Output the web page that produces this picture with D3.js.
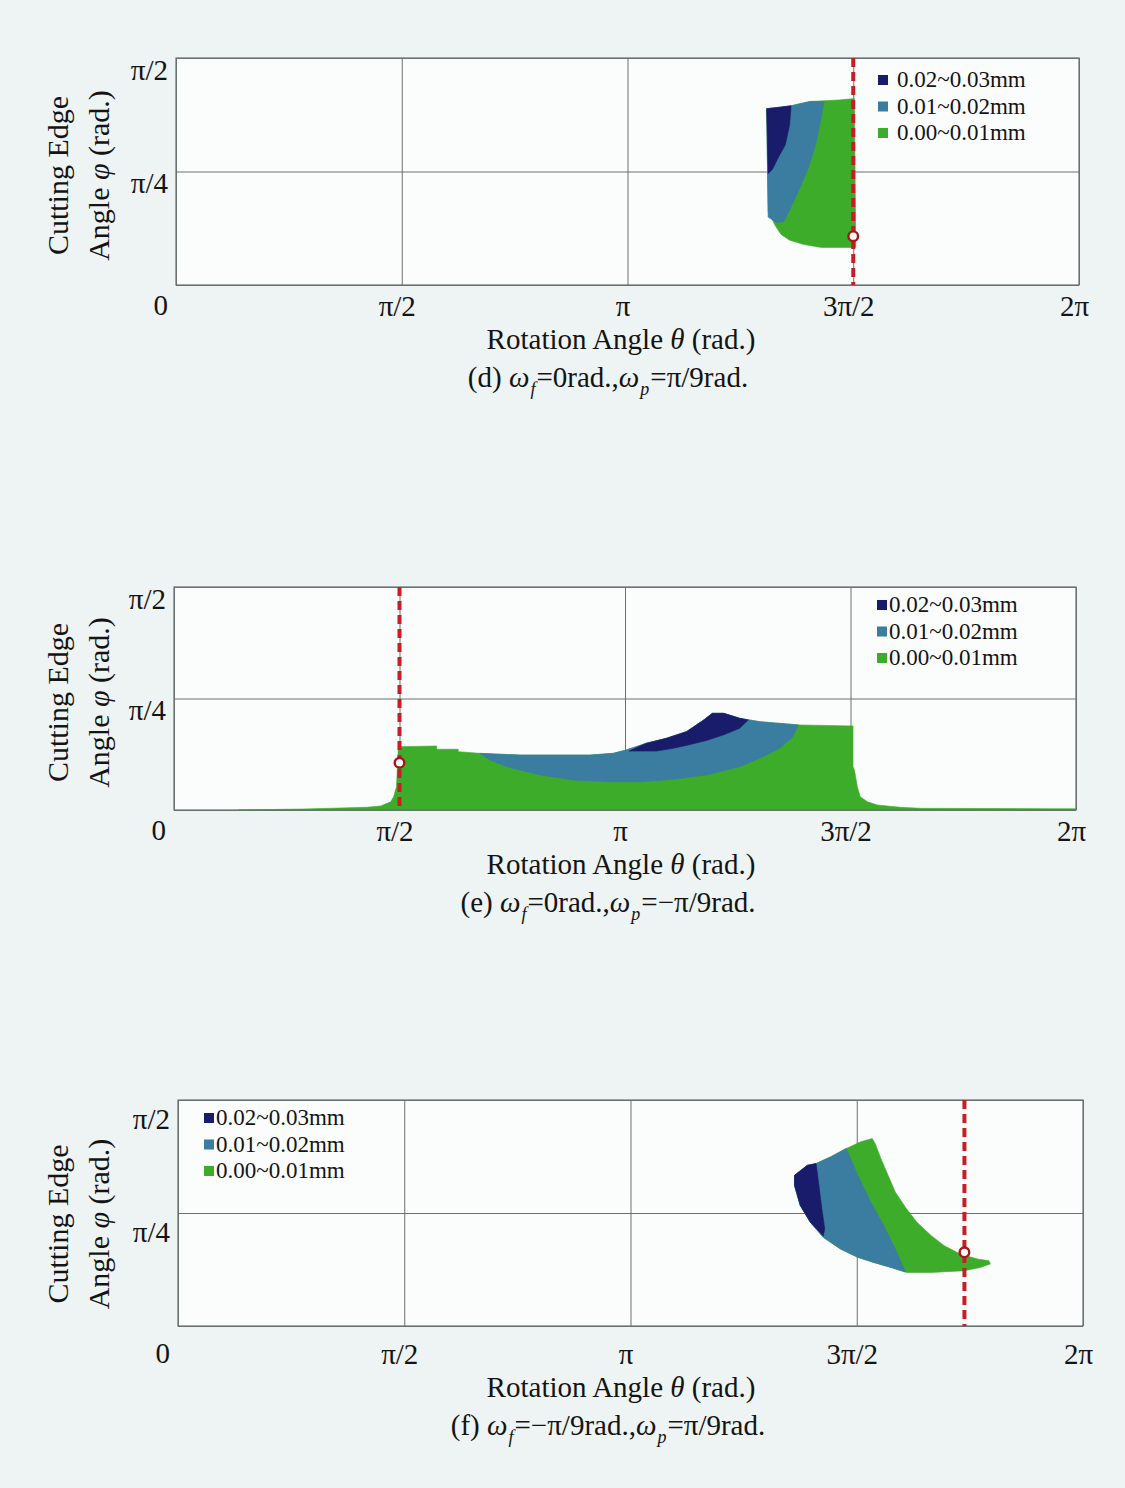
<!DOCTYPE html>
<html>
<head>
<meta charset="utf-8">
<script src="https://cdn.jsdelivr.net/npm/d3@7"></script>
<style>
body { margin: 0; background: #eef3f3; }
svg text { font-family: "Liberation Serif", "Times New Roman", serif; fill: #141414; }
</style>
</head>
<body>
<svg id="page" width="1125" height="1488"></svg>
<script>
// axis ticks (radians) and their labels
var xTicks = [0, Math.PI / 2, Math.PI, 3 * Math.PI / 2, 2 * Math.PI];
var xTickLabels = ["", "π/2", "π", "3π/2", "2π"];
var yTicks = [0, Math.PI / 4, Math.PI / 2];
var yTickLabels = ["0", "π/4", "π/2"];

var legendLabels = ["0.02~0.03mm", "0.01~0.02mm", "0.00~0.01mm"];
var bandColors = ["#191c6a", "#3a7da0", "#3dac2a"];

// regions [theta, phi] in rad. : green = depth > 0, blue = > 0.01mm, navy = > 0.02mm
var dGreen = [[4.11,1.22],[4.20,1.23],[4.28,1.24],[4.41,1.27],[4.61,1.28],[4.72,1.29],[4.73,0.26],[4.49,0.26],[4.37,0.28],[4.27,0.31],[4.21,0.35],[4.17,0.41],[4.14,0.47],[4.12,0.51]];
var dBlue = [[4.11,1.22],[4.20,1.23],[4.28,1.24],[4.41,1.27],[4.51,1.27],[4.48,1.11],[4.45,0.97],[4.40,0.81],[4.34,0.67],[4.28,0.54],[4.23,0.44],[4.18,0.43],[4.12,0.47]];
var dNavy = [[4.11,1.22],[4.20,1.23],[4.28,1.24],[4.27,1.11],[4.24,0.97],[4.19,0.88],[4.15,0.80],[4.12,0.77]];
var dCut = 3 * Math.PI / 2;
var dMark = [3 * Math.PI / 2, 0.338];

var eGreen = [[0.45,0],[0.90,0.007],[1.34,0.019],[1.44,0.028],[1.51,0.058],[1.53,0.094],[1.55,0.164],[1.556,0.305],[1.563,0.446],[1.83,0.451],[1.83,0.428],[1.98,0.428],[1.98,0.411],[2.13,0.399],[2.41,0.387],[2.90,0.387],[3.06,0.399],[3.15,0.423],[3.29,0.470],[3.43,0.505],[3.57,0.552],[3.69,0.634],[3.75,0.681],[3.83,0.681],[3.94,0.646],[4.08,0.622],[4.36,0.599],[4.73,0.592],[4.73,0.305],[4.74,0.282],[4.76,0.164],[4.78,0.094],[4.83,0.058],[4.90,0.035],[5.06,0.019],[5.20,0.012],[6.10,0.009],[6.28,0.009],[6.28,0]];
var eBlue = [[2.13,0.399],[2.41,0.387],[2.90,0.387],[3.06,0.399],[3.15,0.423],[3.29,0.470],[3.43,0.505],[3.57,0.552],[3.69,0.634],[3.75,0.681],[3.83,0.681],[3.94,0.646],[4.08,0.622],[4.35,0.599],[4.31,0.516],[4.22,0.435],[4.08,0.364],[3.94,0.305],[3.80,0.270],[3.71,0.247],[3.48,0.216],[3.25,0.199],[3.01,0.199],[2.78,0.211],[2.55,0.247],[2.32,0.305],[2.20,0.352]];
var eNavy = [[3.17,0.415],[3.29,0.470],[3.43,0.505],[3.57,0.552],[3.69,0.634],[3.75,0.681],[3.83,0.681],[3.94,0.646],[4.00,0.634],[3.94,0.575],[3.83,0.530],[3.71,0.49],[3.59,0.46],[3.48,0.435],[3.36,0.415]];
var eCut = Math.PI / 2;
var eMark = [Math.PI / 2, 0.333];

var fGreen = [[4.28,1.047],[4.37,1.117],[4.43,1.129],[4.53,1.175],[4.64,1.234],[4.74,1.280],[4.82,1.303],[4.84,1.268],[4.88,1.164],[4.93,1.047],[4.98,0.931],[5.05,0.826],[5.13,0.721],[5.23,0.628],[5.32,0.558],[5.43,0.501],[5.55,0.466],[5.63,0.454],[5.64,0.431],[5.57,0.407],[5.46,0.384],[5.23,0.372],[5.06,0.372],[4.95,0.407],[4.83,0.442],[4.72,0.477],[4.60,0.535],[4.48,0.616],[4.39,0.721],[4.32,0.838],[4.28,0.977]];
var fBlue = [[4.28,1.047],[4.37,1.117],[4.43,1.129],[4.53,1.175],[4.64,1.234],[4.72,1.047],[4.81,0.861],[4.90,0.698],[4.98,0.535],[5.05,0.375],[4.95,0.407],[4.83,0.442],[4.72,0.477],[4.60,0.535],[4.48,0.616],[4.39,0.721],[4.32,0.838],[4.28,0.977]];
var fNavy = [[4.28,1.047],[4.37,1.117],[4.43,1.129],[4.45,0.977],[4.47,0.815],[4.49,0.675],[4.48,0.625],[4.39,0.721],[4.32,0.838],[4.28,0.977]];
var fCut = 5.46;
var fMark = [5.46, 0.512];

var panels = [
    { tag: "(d)", wf: "0rad.,", wp: "π/9rad.", left: 176, top: 58, w: 903, h: 227, shift: 0,
      regions: [dGreen, dBlue, dNavy], cut: dCut, mark: dMark,
      legend: { x: 707, y: 22, gap: 14 } },
    { tag: "(e)", wf: "0rad.,", wp: "−π/9rad.", left: 174, top: 587, w: 902, h: 223, shift: 0,
      regions: [eGreen, eBlue, eNavy], cut: eCut, mark: eMark,
      legend: { x: 708, y: 18, gap: 7 } },
    { tag: "(f)", wf: "−π/9rad.,", wp: "π/9rad.", left: 178, top: 1100, w: 905, h: 226, shift: 7,
      regions: [fGreen, fBlue, fNavy], cut: fCut, mark: fMark,
      legend: { x: 31, y: 18, gap: 7 } }
];

var svg = d3.select("#page");

panels.forEach(p => {
    var x = d3.scaleLinear().domain([0, 2 * Math.PI]).range([0, p.w]);
    var y = d3.scaleLinear().domain([0, Math.PI / 2]).range([p.h, 0]);

    var g = svg.append("g").attr("transform", "translate(" + p.left + "," + p.top + ")");

    g.append("rect").attr("width", p.w).attr("height", p.h).attr("fill", "#fbfdfd");

    // grid + tick labels
    var gx = g.append("g")
        .attr("transform", "translate(0," + p.h + ")")
        .call(d3.axisBottom(x).tickValues(xTicks).tickSize(-p.h).tickFormat((d, i) => xTickLabels[i]));
    var gy = g.append("g")
        .call(d3.axisLeft(y).tickValues(yTicks).tickSize(-p.w).tickFormat((d, i) => yTickLabels[i]));
    [gx, gy].forEach(a => {
        a.select(".domain").remove();
        a.selectAll("line").attr("stroke", "#6a7070").attr("stroke-width", 1);
        a.selectAll("text").style("font-size", "29px").attr("fill", "#141414");
    });
    gx.selectAll("text").attr("y", 0).attr("dy", 31 + p.shift).attr("dx", -5);
    gy.selectAll("text").attr("x", -8).attr("dy", (d) => (d == 0 ? 29 : 21) + p.shift);

    // depth bands, widest first
    var line = d3.line().x(d => x(d[0])).y(d => y(d[1])).curve(d3.curveLinearClosed);
    p.regions.forEach((r, i) => {
        g.append("path")
            .datum(r)
            .attr("d", line)
            .attr("fill", bandColors[2 - i])
            .attr("stroke", bandColors[2 - i])
            .attr("stroke-width", 0.6);
    });

    g.append("rect").attr("width", p.w).attr("height", p.h)
        .attr("fill", "none").attr("stroke", "#6a7070").attr("stroke-width", 1.2);

    // cutting position
    g.append("line")
        .attr("x1", x(p.cut)).attr("x2", x(p.cut))
        .attr("y1", y(Math.PI / 2)).attr("y2", y(0))
        .attr("stroke", "#c81d22").attr("stroke-width", 4)
        .attr("stroke-dasharray", "9,5");
    g.append("circle")
        .attr("cx", x(p.mark[0])).attr("cy", y(p.mark[1])).attr("r", 4.8)
        .attr("fill", "#ffffff").attr("stroke", "#a8151a").attr("stroke-width", 2.4);

    // legend
    var lg = g.append("g").attr("transform", "translate(" + p.legend.x + "," + p.legend.y + ")");
    legendLabels.forEach((lab, i) => {
        lg.append("rect")
            .attr("x", -5).attr("y", i * 26.5 - 5).attr("width", 10).attr("height", 10)
            .attr("fill", bandColors[i]);
        lg.append("text")
            .attr("x", p.legend.gap).attr("y", i * 26.5 + 7)
            .style("font-size", "23px")
            .text(lab);
    });

    // y title
    var cy = p.h / 2 + 4 + p.shift;
    g.append("text")
        .attr("transform", "translate(" + (68 - p.left) + "," + cy + ") rotate(-90)")
        .attr("text-anchor", "middle").style("font-size", "30px")
        .text("Cutting Edge");
    var yt = g.append("text")
        .attr("transform", "translate(" + (109 - p.left) + "," + cy + ") rotate(-90)")
        .attr("text-anchor", "middle").style("font-size", "30px");
    yt.append("tspan").text("Angle ");
    yt.append("tspan").style("font-style", "italic").text("φ");
    yt.append("tspan").text(" (rad.)");

    // x title
    var xt = g.append("text")
        .attr("x", 621 - p.left).attr("y", p.h + 64 + p.shift)
        .attr("text-anchor", "middle").style("font-size", "29px");
    xt.append("tspan").text("Rotation Angle ");
    xt.append("tspan").style("font-style", "italic").text("θ");
    xt.append("tspan").text(" (rad.)");

    // caption
    var cap = g.append("text")
        .attr("x", 608 - p.left).attr("y", p.h + 102 + p.shift)
        .attr("text-anchor", "middle").style("font-size", "29px");
    cap.append("tspan").text(p.tag + " ");
    cap.append("tspan").style("font-style", "italic").text("ω");
    cap.append("tspan").style("font-style", "italic").style("font-size", "18px").attr("dy", 8).attr("dx", 1).text("f");
    cap.append("tspan").attr("dy", -8).attr("dx", 1).text("=" + p.wf);
    cap.append("tspan").style("font-style", "italic").text("ω");
    cap.append("tspan").style("font-style", "italic").style("font-size", "18px").attr("dy", 8).attr("dx", 1).text("p");
    cap.append("tspan").attr("dy", -8).attr("dx", 1).text("=" + p.wp);
});
</script>
</body>
</html>
